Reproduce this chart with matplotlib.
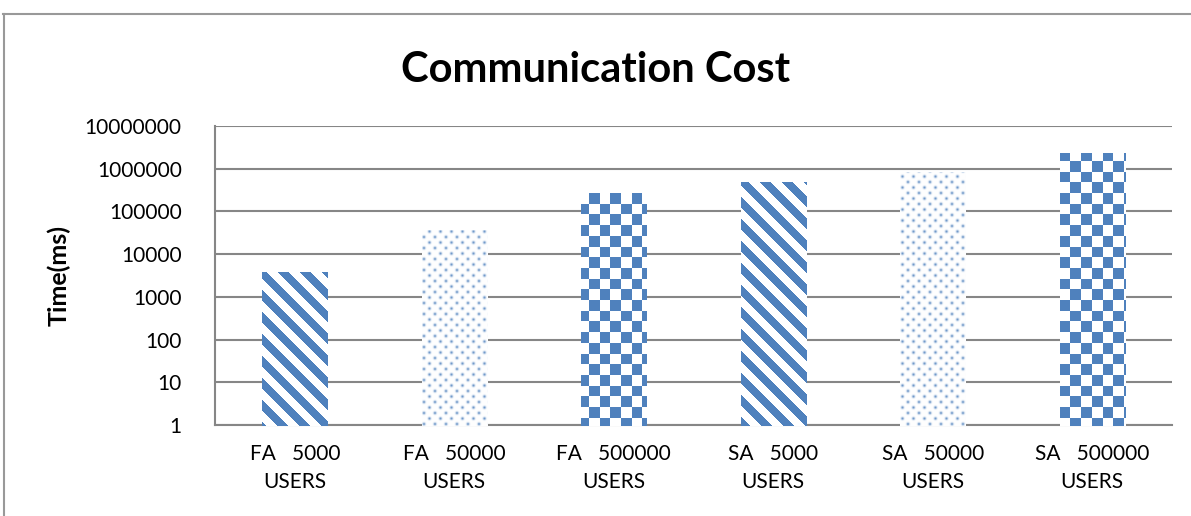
import numpy as np
import matplotlib
matplotlib.use("Agg")
import matplotlib.pyplot as plt
from matplotlib.lines import Line2D

# ---- data ----
categories = ["FA   5000\nUSERS", "FA   50000\nUSERS", "FA   500000\nUSERS",
              "SA   5000\nUSERS", "SA   50000\nUSERS", "SA   500000\nUSERS"]
values = [3800, 37000, 270000, 490000, 840000, 2300000]
patterns = ["stripes", "dots", "checker", "stripes", "dots", "checker"]
yticks = [1, 10, 100, 1000, 10000, 100000, 1000000, 10000000]
ytick_labels = ["1", "10", "100", "1000", "10000", "100000", "1000000", "10000000"]
title = "Communication Cost"
ylabel = "Time(ms)"

W, H, DPI = 1191, 516, 100
BLUE = np.array([79, 129, 189]) / 255.0
FONT = ["Lato", "DejaVu Sans"]
plt.rcParams['font.family'] = FONT

fig = plt.figure(figsize=(W / DPI, H / DPI), dpi=DPI)
ax = fig.add_axes([215 / W, 1 - 425 / H, (1172 - 215) / W, (425 - 126) / H])
ax.set_yscale('log')

x = np.arange(len(categories))
bars = ax.bar(x, [v - 1 for v in values], bottom=1, width=0.41,
              facecolor='none', edgecolor='none', zorder=2)

ax.set_xlim(-0.5, len(categories) - 0.5)
ax.set_ylim(1, 1e7)
ax.set_yticks(yticks)
ax.set_yticklabels(ytick_labels)
ax.yaxis.set_minor_locator(matplotlib.ticker.NullLocator())
ax.set_xticks(x)
ax.set_xticklabels(categories, linespacing=1.45)
ax.tick_params(axis='both', length=0, labelsize=15, colors='black')
ax.tick_params(axis='y', pad=24)
ax.tick_params(axis='x', pad=14)
ax.grid(axis='y', color='#868686', linewidth=1.5)
ax.set_axisbelow(True)
for s in ['top', 'right']:
    ax.spines[s].set_visible(False)
for s in ['left', 'bottom']:
    ax.spines[s].set_color('#868686')
    ax.spines[s].set_linewidth(1.5)
ax.set_ylabel(ylabel, fontsize=18, fontweight='bold', labelpad=10)

fig.text(0.5, 1 - 70 / H, title, ha='center', va='center',
         fontsize=30, fontweight='bold')

# outer chart border (top and left)
fig.add_artist(Line2D([3 / W, 1], [1 - 14 / H, 1 - 14 / H], transform=fig.transFigure,
                      color='#999999', linewidth=1.5))
fig.add_artist(Line2D([3.5 / W, 3.5 / W], [0, 1 - 14 / H], transform=fig.transFigure,
                      color='#999999', linewidth=1.5))

# ---- fill patterns (pixel space) ----
yy, xx = np.mgrid[0:H, 0:W].astype(float)

P = 22.0
s = np.abs(((xx - yy) % P) - P / 2)
a_stripes = np.clip((5.5 - s) + 0.5, 0, 1)

step = 5.5
u, v = xx / step, yy / step
p, q = (u + v) / 2, (u - v) / 2
p0, q0 = np.round(p), np.round(q)
a0, b0 = p0 + q0, p0 - q0
r = step * np.sqrt((u - a0) ** 2 + (v - b0) ** 2)
a_dots = 0.8 * np.exp(-(r / 1.5) ** 2)

cell = 10.7
a_checker = (((xx // cell) + (yy // cell)) % 2).astype(float)

alphas = {"stripes": a_stripes, "dots": a_dots, "checker": a_checker}

def make_img(a):
    rgb = (1 - a[..., None]) * 1.0 + a[..., None] * BLUE
    return np.dstack([rgb, np.ones_like(a)])

imgs = {k: make_img(a) for k, a in alphas.items()}

for bar, pat in zip(bars, patterns):
    im = fig.figimage(imgs[pat], xo=0, yo=0, origin='upper', zorder=3)
    im.set_clip_path(bar)

fig.savefig("out.png", dpi=DPI)
